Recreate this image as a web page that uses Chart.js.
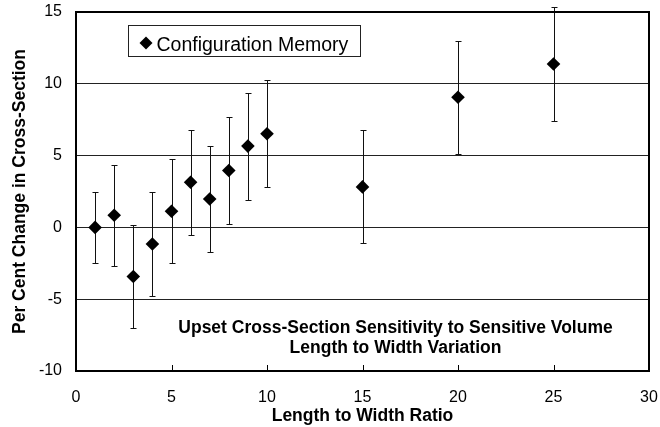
<!DOCTYPE html>
<html>
<head>
<meta charset="utf-8">
<script src="https://cdn.jsdelivr.net/npm/chart.js@4.4.1/dist/chart.umd.min.js"></script>
<style>
  html, body { margin: 0; padding: 0; background: #fff; }
  #wrap { width: 660px; height: 427px; position: relative; }
</style>
</head>
<body>
<div id="wrap"><canvas id="chart"></canvas></div>
<script>
//------data
const ratios  = [1, 2, 3, 4, 5, 6, 7, 8, 9, 10, 15, 20, 25];
const changes = [0, 0.85, -3.42, -1.16, 1.12, 3.14, 1.98, 3.96, 5.66, 6.52, 2.82, 9.06, 11.38];
const errors  = [2.45, 3.52, 3.6, 3.63, 3.63, 3.67, 3.7, 3.72, 3.73, 3.74, 3.93, 3.94, 3.99];
const xTicks = [0, 5, 10, 15, 20, 25, 30];
const yTicks = [-10, -5, 0, 5, 10, 15];
const seriesName = 'Configuration Memory';
const noteLines = ['Upset Cross-Section Sensitivity to Sensitive Volume', 'Length to Width Variation'];

const FONT = '"Liberation Sans", Arial, sans-serif';

const points = [];
for (let i = 0; i < ratios.length; i++) {
    points.push({ x: ratios[i], y: changes[i], err: errors[i] });
}

//------plugin: error bars, frame, inner ticks, legend, note
const extras = {
    id: 'extras',
    beforeDatasetsDraw(chart) {
        const { ctx } = chart;
        const xs = chart.scales.x, ys = chart.scales.y;
        ctx.save();
        ctx.strokeStyle = '#111';
        ctx.lineWidth = 1;
        points.forEach(p => {
            const px = Math.round(xs.getPixelForValue(p.x)) + 0.5;
            const top = Math.round(ys.getPixelForValue(p.y + p.err)) + 0.5;
            const bot = Math.round(ys.getPixelForValue(p.y - p.err)) + 0.5;
            ctx.beginPath();
            ctx.moveTo(px, top); ctx.lineTo(px, bot);
            ctx.moveTo(px - 3, top); ctx.lineTo(px + 3, top);
            ctx.moveTo(px - 3, bot); ctx.lineTo(px + 3, bot);
            ctx.stroke();
        });
        ctx.restore();
    },
    afterDraw(chart) {
        const { ctx, chartArea: a } = chart;
        const xs = chart.scales.x;
        ctx.save();
        // frame
        ctx.strokeStyle = '#000';
        ctx.lineWidth = 2;
        ctx.strokeRect(a.left, a.top, a.right - a.left, a.bottom - a.top);
        // small tick marks pointing into the plot
        ctx.lineWidth = 1;
        xTicks.forEach(v => {
            const px = Math.round(xs.getPixelForValue(v)) + 0.5;
            ctx.beginPath();
            ctx.moveTo(px, a.bottom);
            ctx.lineTo(px, a.bottom - 6);
            ctx.stroke();
        });
        // legend box
        const lx = a.left + 52.5, ly = a.top + 13.5;
        ctx.fillStyle = '#fff';
        ctx.fillRect(lx, ly, 232, 31);
        ctx.strokeStyle = '#222';
        ctx.strokeRect(lx, ly, 232, 31);
        ctx.fillStyle = '#000';
        const dx = lx + 17.5, dy = ly + 17.5;
        ctx.beginPath();
        ctx.moveTo(dx, dy - 6.5); ctx.lineTo(dx + 6.5, dy);
        ctx.lineTo(dx, dy + 6.5); ctx.lineTo(dx - 6.5, dy);
        ctx.closePath(); ctx.fill();
        ctx.font = '19.5px ' + FONT;
        ctx.textBaseline = 'alphabetic';
        ctx.textAlign = 'left';
        ctx.fillText(seriesName, lx + 28, ly + 25);
        // note
        ctx.font = 'bold 17.5px ' + FONT;
        ctx.textAlign = 'center';
        const cx = (a.left + a.right) / 2 + 33;
        ctx.fillText(noteLines[0], cx, a.bottom - 38.5);
        ctx.fillText(noteLines[1], cx, a.bottom - 18);
        ctx.restore();
    }
};

const config = {
    type: 'scatter',
    data: {
        datasets: [{
            label: seriesName,
            data: points,
            pointStyle: 'rectRot',
            pointRadius: 6.8,
            pointHoverRadius: 6.8,
            backgroundColor: '#000',
            borderColor: '#000',
            borderWidth: 0
        }]
    },
    options: {
        responsive: false,
        animation: false,
        devicePixelRatio: 1,
        layout: {
            padding: { top: 12, right: 11, bottom: 0, left: 0 }
        },
        plugins: {
            legend: { display: false },
            tooltip: { enabled: false }
        },
        scales: {
            x: {
                type: 'linear',
                min: 0,
                max: 30,
                afterBuildTicks: s => { s.ticks = xTicks.map(v => ({ value: v })); },
                afterFit: s => { s.height = 56; s.paddingLeft = 0; s.paddingRight = 0; },
                grid: { display: false, drawTicks: false },
                border: { display: true, color: '#000', width: 2 },
                ticks: { color: '#000', padding: 17, font: { family: FONT, size: 16 } },
                title: {
                    display: true,
                    text: 'Length to Width Ratio',
                    color: '#000',
                    padding: { top: 0, bottom: 0 },
                    font: { family: FONT, size: 17.5, weight: 'bold' }
                }
            },
            y: {
                type: 'linear',
                min: -10,
                max: 15,
                afterBuildTicks: s => { s.ticks = yTicks.map(v => ({ value: v })); },
                afterFit: s => { s.width = 76; s.paddingTop = 0; s.paddingBottom = 0; },
                grid: { color: '#222', lineWidth: 1, drawTicks: false },
                border: { display: true, color: '#000', width: 2 },
                ticks: { color: '#000', padding: 14, font: { family: FONT, size: 16 } },
                title: {
                    display: true,
                    text: 'Per Cent Change in Cross-Section',
                    color: '#000',
                    padding: { top: 10, bottom: 0 },
                    font: { family: FONT, size: 17.5, weight: 'bold' }
                }
            }
        }
    },
    plugins: [extras]
};

const canvas = document.getElementById('chart');
canvas.width = 660;
canvas.height = 427;
const myChart = new Chart(canvas, config);
</script>
</body>
</html>
